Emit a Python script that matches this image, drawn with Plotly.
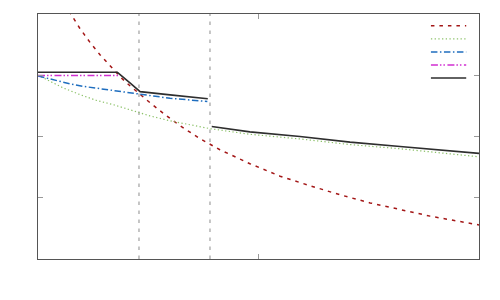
import plotly.graph_objects as go

# ---- data ----
red_x = [0.10, 0.150, 0.190, 0.236, 0.281, 0.327, 0.372, 0.417, 0.463, 0.508, 0.576, 0.644,
         0.735, 0.825, 0.961, 1.098, 1.234, 1.370, 1.506, 1.642, 1.778, 1.914, 2.000]
red_y = [1.07, 1.000, 0.941, 0.884, 0.834, 0.789, 0.744, 0.707, 0.671, 0.638, 0.589, 0.544,
         0.491, 0.446, 0.389, 0.338, 0.299, 0.262, 0.229, 0.202, 0.175, 0.153, 0.139]

green_x = [0.0, 0.054, 0.115, 0.190, 0.266, 0.341, 0.417, 0.508, 0.599, 0.780, 0.961,
           1.188, 1.415, 1.642, 2.000]
green_y = [0.750, 0.725, 0.698, 0.671, 0.647, 0.630, 0.609, 0.584, 0.564, 0.532, 0.509,
           0.490, 0.467, 0.450, 0.417]

blue_x = [0.0, 0.07, 0.145, 0.21, 0.281, 0.35, 0.417, 0.508, 0.599, 0.768]
blue_y = [0.747, 0.730, 0.715, 0.704, 0.695, 0.687, 0.679, 0.667, 0.656, 0.643]

magenta_x = [0.0, 0.372]
magenta_y = [0.749, 0.749]

black_x = [0.0, 0.360, 0.417, 0.463, 0.599, 0.770, None, 0.788, 0.961, 1.188, 1.415, 1.642, 2.000]
black_y = [0.762, 0.762, 0.719, 0.683, 0.670, 0.654, None, 0.541, 0.519, 0.500, 0.477, 0.459, 0.431]

vlines_x = [0.458, 0.780]
x_ticks = [1.0]
y_ticks = [0.25, 0.5, 0.75]

# ---- styles ----
styles = [
    ("red", red_x, red_y, dict(color="#a31616", width=1.5, dash="3.5px,5px")),
    ("green", green_x, green_y, dict(color="#8dc26a", width=1.2, dash="1.3px,2.4px")),
    ("blue", blue_x, blue_y, dict(color="#1f6ebf", width=1.5, dash="6.5px,2.5px,1.5px,2.5px")),
    ("magenta", magenta_x, magenta_y, dict(color="#d12fd1", width=1.5,
                                           dash="7px,2px,1.5px,2px,1.5px,2.5px")),
    ("black", black_x, black_y, dict(color="#2e2e2e", width=1.6)),
]

fig = go.Figure()
for name, xs, ys, ln in styles:
    fig.add_trace(go.Scatter(x=xs, y=ys, mode="lines", name=name, line=ln,
                             showlegend=False, connectgaps=False, hoverinfo="skip"))

shapes = []
for vx in vlines_x:
    shapes.append(dict(type="line", xref="x", yref="paper", x0=vx, x1=vx, y0=0, y1=1,
                       line=dict(color="#8c8c8c", width=1, dash="3.5px,5.5px"), layer="below"))

# legend swatches (no labels in the reference)
leg_x0, leg_x1 = 0.891, 0.971
leg_top, leg_step = 0.952, 0.0533
for i, (name, xs, ys, ln) in enumerate(styles):
    yy = leg_top - i * leg_step
    shapes.append(dict(type="line", xref="paper", yref="paper", x0=leg_x0, x1=leg_x1,
                       y0=yy, y1=yy, line=ln))

axis_common = dict(showline=True, linecolor="#555555", linewidth=1, mirror="ticks",
                   ticks="inside", ticklen=5, tickcolor="#999999", tickwidth=1,
                   showticklabels=False, showgrid=False, zeroline=False)

fig.update_layout(
    width=500, height=300,
    margin=dict(l=38, r=21, t=14, b=41),
    paper_bgcolor="white", plot_bgcolor="white",
    shapes=shapes,
    xaxis=dict(range=[0, 2], tickvals=x_ticks, **axis_common),
    yaxis=dict(range=[0, 1], tickvals=y_ticks, **axis_common),
)

fig.write_html("out.html", config={"displayModeBar": False},
               post_script="document.body.style.margin='0';document.body.style.overflow='hidden';")
